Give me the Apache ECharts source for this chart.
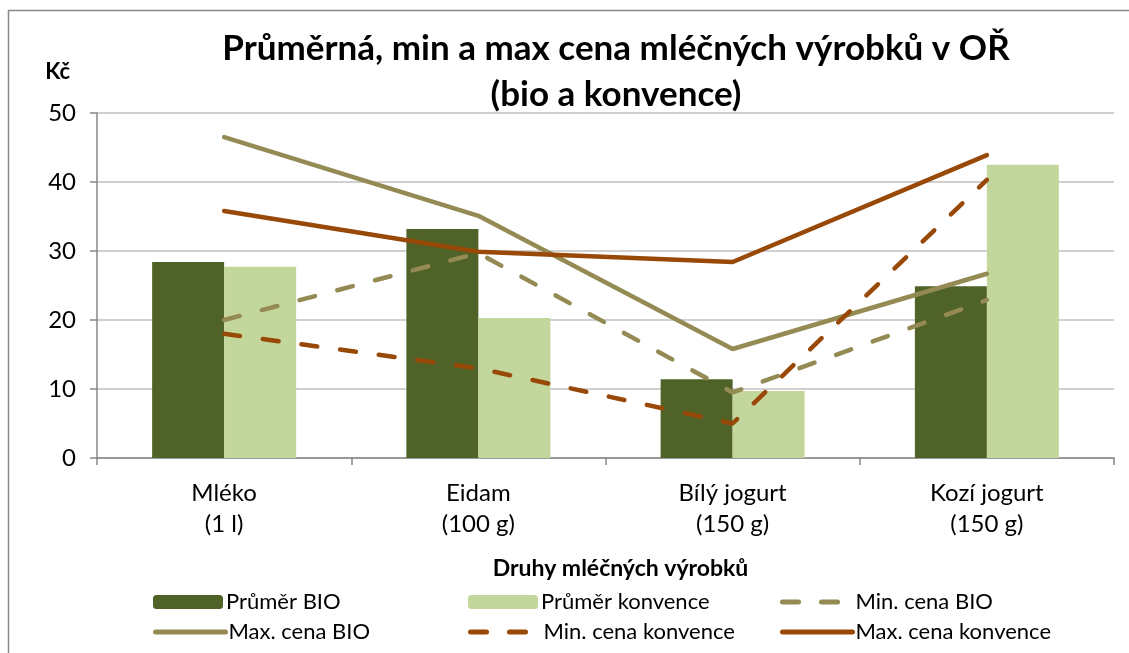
<!DOCTYPE html>
<html>
<head>
<meta charset="utf-8">
<script src="https://cdn.jsdelivr.net/npm/echarts@6/dist/echarts.min.js"></script>
<style>
  html, body { margin: 0; padding: 0; background: #fff; }
  #chart { width: 1129px; height: 653px; }
</style>
</head>
<body>
<div id="chart"></div>
<script>
const categories = ['Mléko\n(1 l)', 'Eidam\n(100 g)', 'Bílý jogurt\n(150 g)', 'Kozí jogurt\n(150 g)'];
const prumerBio = [28.4, 33.2, 11.4, 24.9];
const prumerKonv = [27.7, 20.3, 9.7, 42.5];
const minBio = [20.0, 29.7, 9.5, 22.9];
const maxBio = [46.5, 35.1, 15.8, 26.7];
const minKonv = [18.0, 13.0, 5.0, 40.3];
const maxKonv = [35.8, 29.9, 28.4, 43.9];

const FONT = 'Lato, "Open Sans", sans-serif';
const darkGreen = '#4f6228', lightGreen = '#c3d69b', olive = '#948a54', rust = '#984807';
const dash = [16, 23];

const chart = echarts.init(document.getElementById('chart'));

// one legend per slot so the three columns line up like the original
function leg(name, left, top, isLine) {
  const item = { name };
  if (isLine) item.itemStyle = { opacity: 0 };
  return {
    data: [item], left, top, padding: 0, itemWidth: 70, itemHeight: 14, itemGap: 0,
    lineStyle: isLine ? { width: 5 } : undefined,
    textStyle: { fontFamily: FONT, fontSize: 22, color: '#000', padding: [0, 0, 0, -2] }
  };
}

chart.setOption({
  animation: false,
  textStyle: { fontFamily: FONT },
  title: {
    text: 'Průměrná, min a max cena mléčných výrobků v OŘ\n(bio a konvence)',
    left: 611, top: 21, textAlign: 'center',
    textStyle: { fontFamily: FONT, fontSize: 35, fontWeight: 'bold', color: '#000', lineHeight: 46 }
  },
  graphic: [{
    type: 'rect', shape: { x: 8.5, y: 10.5, width: 1140, height: 660 },
    style: { fill: null, stroke: '#868686', lineWidth: 1.5 }, silent: true
  }],
  legend: [
    leg('Průměr BIO', 153, 591, false),
    leg('Průměr konvence', 468, 591, false),
    leg('Min. cena BIO', 780, 591, true),
    leg('Max. cena BIO', 153, 621, true),
    leg('Min. cena konvence', 468, 621, true),
    leg('Max. cena konvence', 780, 621, true)
  ],
  grid: { left: 97, right: 15, top: 113, bottom: 195 },
  xAxis: {
    type: 'category', data: categories,
    name: 'Druhy mléčných výrobků', nameLocation: 'middle', nameGap: 99,
    nameTextStyle: { fontFamily: FONT, fontSize: 23, fontWeight: 'bold', color: '#000', padding: [0, 0, 0, 30] },
    axisLine: { lineStyle: { color: '#868686', width: 1.5 } },
    axisTick: { show: true, length: 7, lineStyle: { color: '#868686', width: 1.5 } },
    axisLabel: { fontFamily: FONT, fontSize: 24, color: '#000', margin: 20, lineHeight: 31 }
  },
  yAxis: {
    type: 'value', min: 0, max: 50, interval: 10,
    name: 'Kč', nameLocation: 'end', nameGap: 30,
    nameTextStyle: { fontFamily: FONT, fontSize: 22, fontWeight: 'bold', color: '#000', align: 'right', padding: [0, 27, 0, 0] },
    axisLine: { show: true, lineStyle: { color: '#868686', width: 1.5 } },
    axisTick: { show: true, length: 7, lineStyle: { color: '#868686', width: 1.5 } },
    axisLabel: { fontFamily: FONT, fontSize: 24, color: '#000', margin: 21 },
    splitLine: { lineStyle: { color: '#c0c0c0', width: 1.5 } }
  },
  series: [
    { name: 'Průměr BIO', type: 'bar', data: prumerBio, barWidth: 72, barGap: '0%', itemStyle: { color: darkGreen } },
    { name: 'Průměr konvence', type: 'bar', data: prumerKonv, barWidth: 72, barGap: '0%', itemStyle: { color: lightGreen } },
    { name: 'Min. cena BIO', type: 'line', data: minBio, symbol: 'none', itemStyle: { color: olive },
      lineStyle: { color: olive, width: 4.5, type: dash, cap: 'round' } },
    { name: 'Max. cena BIO', type: 'line', data: maxBio, symbol: 'none', itemStyle: { color: olive },
      lineStyle: { color: olive, width: 4.5, cap: 'round' } },
    { name: 'Min. cena konvence', type: 'line', data: minKonv, symbol: 'none', itemStyle: { color: rust },
      lineStyle: { color: rust, width: 4.5, type: dash, cap: 'round' } },
    { name: 'Max. cena konvence', type: 'line', data: maxKonv, symbol: 'none', itemStyle: { color: rust },
      lineStyle: { color: rust, width: 4.5, cap: 'round' } }
  ]
});
</script>
</body>
</html>
